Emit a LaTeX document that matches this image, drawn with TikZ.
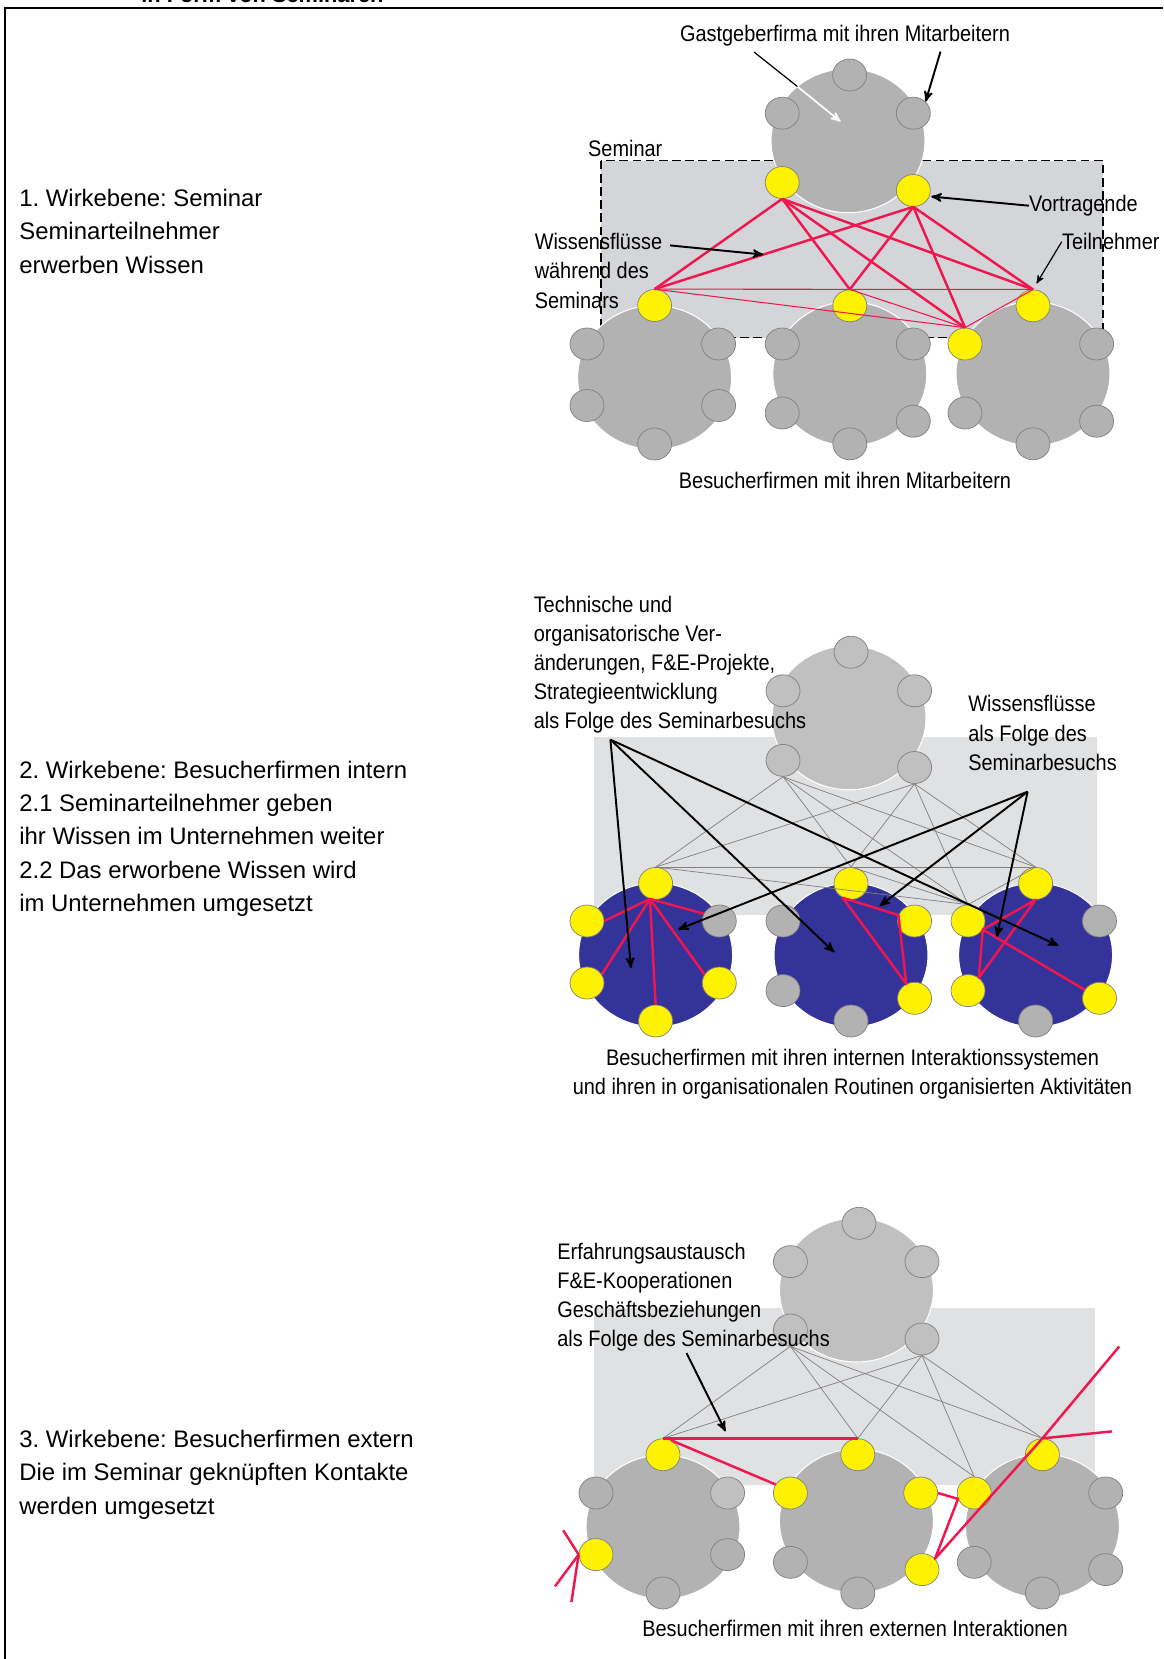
\documentclass[tikz,border=0pt]{standalone}
\usepackage{fontspec}
\setmainfont{Liberation Sans}
\newfontfamily\narrowfont{Liberation Sans}[FakeStretch=0.886]
\usepackage{tikz}
\usetikzlibrary{shapes.geometric}
\usetikzlibrary{arrows}
\usetikzlibrary{calc}
\frenchspacing

\definecolor{firmgray}{RGB}{178,178,178}
\definecolor{hostgray}{RGB}{192,192,192}
\definecolor{rimgray}{RGB}{128,128,128}
\definecolor{boxgray}{RGB}{212,213,216}
\definecolor{boxlight}{RGB}{224,225,227}
\definecolor{flowred}{RGB}{240,22,80}
\definecolor{navy}{RGB}{51,51,153}

\tikzset{
  firmbody/.style={ellipse,minimum width=3.08cm,minimum height=2.88cm,inner sep=0pt,draw=white,line width=0.6pt},
  person/.style={ellipse,minimum width=0.68cm,minimum height=0.64cm,inner sep=0pt,draw=rimgray,line width=0.4pt},
  flow/.style={flowred,line width=1.4pt,line join=round},
  thinflow/.style={flowred,line width=0.6pt},
  tie/.style={rimgray,line width=0.4pt},
  pointer/.style={->,black,line width=1.1pt},
  lbl/.style={font=\narrowfont\fontsize{12.8}{16.6}\selectfont,inner sep=0pt,align=left},
  stagetext/.style={font=\fontsize{13.6}{19}\selectfont,inner sep=0pt,align=left,anchor=base west}
}

% firm: name, centre, fill, list of small/dx/dy/colour
\newcommand{\drawfirm}[4]{%
  \node[firmbody,fill=#3] (#1) at #2 {};
  \foreach \where/\ox/\oy/\tone in {#4}
    \node[person,fill=\tone] (#1-\where) at ($(#1)+(\ox,\oy)$) {};
}

\begin{document}
\begin{tikzpicture}[x=0.02cm,y=-0.02cm,>=stealth']
\useasboundingbox (0,0) rectangle (1163,1659);

% frame
\draw[line width=1.3pt] (4,8) -- (1163,8);
\draw[line width=1.3pt] (5,8) -- (5,1659);
\node[anchor=base west,inner sep=0pt,font=\bfseries\fontsize{12.4}{15}\selectfont] (headline) at (141,3) {in Form von Seminaren};

% ---- 1. Wirkebene
% (base of a multi-line node = its last line)
\node[stagetext] (stage1) at (19,273.3) {1. Wirkebene: Seminar\\Seminarteilnehmer\\erwerben Wissen};
\draw[fill=boxgray,dash pattern=on 5pt off 2.5pt,line width=0.9pt] (601,160.7) rectangle (1103,337.7);

\drawfirm{H1}{(848,140.7)}{firmgray}{t/1.6/-65.7/firmgray,ul/-65.8/-27.5/firmgray,ur/65.3/-27.5/firmgray,ll/-65.8/41.8/yellow,lr/65.3/49.8/yellow}
\drawfirm{L1}{(654.6,377.5)}{firmgray}{t/0/-72/yellow,ul/-67.6/-33.5/firmgray,ur/64/-33.5/firmgray,ll/-67.6/28/firmgray,lr/64/28/firmgray,b/0/66.5/firmgray}
\drawfirm{M1}{(849.8,373.8)}{firmgray}{t/0/-68/yellow,ul/-67.6/-29.8/firmgray,ur/63.5/-29.8/firmgray,ll/-67.6/39.2/firmgray,lr/63.5/47.4/firmgray,b/0/70/firmgray}
\drawfirm{R1}{(1033,373.8)}{firmgray}{t/0/-68/yellow,ul/-68/-29.8/yellow,ur/63.6/-29.8/firmgray,ll/-68/39.2/firmgray,lr/63.6/47.4/firmgray,b/0/70/firmgray}

\foreach \s in {ll,lr}
  \foreach \t in {L1-t,M1-t,R1-t,R1-ul}
    \draw[flow] (H1-\s.south) -- (\t.north);
\foreach \a/\b in {L1-t/R1-t,L1-t/R1-ul,M1-t/R1-ul,R1-t/R1-ul}
  \draw[thinflow] (\a.north) -- (\b.north);

\node[lbl,anchor=base] (gast) at (845,41.7) {Gastgeberfirma mit ihren Mitarbeitern};
\coordinate (gastA) at (754,52);
\coordinate (gastB) at (797.5,86.6);
\coordinate (gastC) at (840.6,121.6);
\coordinate (gastD) at (940.5,51.6);
\draw[line width=0.7pt] (gastA) -- (gastB);
\draw[->,white,line width=1pt] (gastB) -- (gastC);
\draw[pointer] (gastD) -- (H1-ur.north east);

\node[lbl,anchor=base west] (seminar) at (587.8,156.5) {Seminar};
\node[lbl,anchor=base west] (vortr) at (1028.8,211.5) {Vortragende};
\draw[pointer,shorten >=1pt] (vortr.west) -- (H1-lr.-20);
\node[lbl,anchor=base west] (teiln) at (1061.7,249.8) {Teilnehmer};
\draw[->,line width=0.7pt,shorten >=4pt] (teiln.west) -- (R1-t.north);
\node[lbl,anchor=base west] (wiss1) at (534.4,308) {Wissensflüsse\\während des\\Seminars};
\coordinate (wissA) at (670,245.4);
\draw[pointer] (wissA) -- ($(H1-lr.south)!0.58!(L1-t.north)$);
\node[lbl,anchor=base] (visit1) at (845,488) {Besucherfirmen mit ihren Mitarbeitern};

% ---- 2. Wirkebene
\node[stagetext] (stage2) at (19,911.7) {2. Wirkebene: Besucherfirmen intern\\2.1 Seminarteilnehmer geben\\ihr Wissen im Unternehmen weiter\\2.2 Das erworbene Wissen wird\\im Unternehmen umgesetzt};
\fill[boxlight] (594,737.3) rectangle (1097,914.5);

\drawfirm{H2}{(849,717.8)}{hostgray}{t/2/-65.6/hostgray,ul/-66/-27/hostgray,ur/65.6/-27/hostgray,ll/-66/42.6/hostgray,lr/65.6/49.7/hostgray}
\drawfirm{L2}{(655.6,955)}{navy}{t/0/-71.6/yellow,ul/-68.6/-34/yellow,ur/63.7/-34/firmgray,ll/-68.6/28/yellow,lr/63.7/28/yellow,b/0/66/yellow}
\drawfirm{M2}{(851,955)}{navy}{t/0/-71.6/yellow,ul/-68/-34/firmgray,ur/63.6/-34/yellow,ll/-68/35.6/firmgray,lr/63.6/43.3/yellow,b/0/66/firmgray}
\drawfirm{R2}{(1035.6,955)}{navy}{t/0/-71.6/yellow,ul/-67.6/-34/yellow,ur/63.9/-34/firmgray,ll/-67.6/35.6/yellow,lr/63.9/43.3/yellow,b/0/66/firmgray}

\foreach \s in {ll,lr}
  \foreach \t in {L2-t,M2-t,R2-t,R2-ul}
    \draw[tie] (H2-\s.south) -- (\t.north);
\foreach \a/\b in {L2-t/R2-t,L2-t/R2-ul,M2-t/R2-ul,R2-t/R2-ul}
  \draw[tie] (\a.north) -- (\b.north);

\foreach \t in {ul.east,ll.30,b.north,lr.150,ur.155}
  \draw[flow] (L2-t.-110) -- (L2-\t);
\draw[flow] (M2-t.-120) -- (M2-ur.160) -- (M2-lr.120) -- cycle;
\draw[flow] (R2-t.south) -- (R2-ll.50) -- (R2-ul.-30) -- cycle;
\draw[flow] (R2-ul.-30) -- (R2-lr.150);

\node[lbl,anchor=base west] (techn) at (533.4,728.8) {Technische und\\organisatorische Ver-\\änderungen, F\&E-Projekte,\\Strategieentwicklung\\als Folge des Seminarbesuchs};
\coordinate (technA) at (610.4,739.6);
\draw[pointer] (technA) -- ($(L2)+(-24.6,13)$);
\draw[pointer] (technA) -- ($(M2)+(-16.6,-2.7)$);
\draw[pointer] (technA) -- ($(R2)+(22.8,-9.4)$);
\node[lbl,anchor=base west] (wiss2) at (968,770.3) {Wissensflüsse\\als Folge des\\Seminarbesuchs};
\coordinate (wissB) at (1027.6,791.7);
\draw[pointer] (wissB) -- ($(L2)+(22.6,-25.6)$);
\draw[pointer] (wissB) -- ($(M2)+(28.6,-49)$);
\draw[pointer] (wissB) -- ($(R2)+(-38.8,-18.2)$);
\node[lbl,anchor=base,align=center] (visit2) at (852.5,1094.8) {Besucherfirmen mit ihren internen Interaktionssystemen\\und ihren in organisationalen Routinen organisierten Aktivitäten};

% ---- 3. Wirkebene
\node[stagetext] (stage3) at (19,1514) {3. Wirkebene: Besucherfirmen extern\\Die im Seminar geknüpften Kontakte\\werden umgesetzt};
\fill[boxlight] (594,1308.2) rectangle (1095.4,1484.7);

\drawfirm{H3}{(856.4,1290)}{hostgray}{t/2.6/-66.7/hostgray,ul/-66/-28.4/hostgray,ur/65.6/-28.4/hostgray,ll/-66/40/hostgray,lr/65.6/49/hostgray}
\drawfirm{L3}{(663,1527)}{firmgray}{t/0/-72.3/yellow,ul/-67/-34/firmgray,ur/64.6/-34/hostgray,ll/-67/27.6/yellow,lr/64.6/27.6/firmgray,b/0/66/firmgray}
\drawfirm{M3}{(856.4,1521)}{firmgray}{t/1.4/-66.3/yellow,ul/-66/-28/yellow,ur/64.3/-28/yellow,ll/-66/41.3/firmgray,lr/65.6/48.6/yellow,b/1.4/72/firmgray}
\drawfirm{R3}{(1042.4,1526)}{firmgray}{t/0/-71.3/yellow,ul/-68.2/-33/yellow,ur/63.3/-33/firmgray,ll/-68.2/36.3/firmgray,lr/63.3/43.6/firmgray,b/0/67/firmgray}

\foreach \s in {ll,lr}
  \foreach \t in {L3-t,M3-t,R3-t,R3-ul}
    \draw[tie] (H3-\s.south) -- (\t.north);

\draw[flow] (L3-t.north) -- (M3-t.north);
\draw[flow] (L3-t.60) -- (M3-ul.150);
\coordinate (outA) at (563.2,1530.3);
\coordinate (outB) at (555,1586.3);
\coordinate (outC) at (571.4,1602);
\coordinate (outD) at (1119.2,1346.5);
\coordinate (outE) at (1111.8,1431.4);
\foreach \o in {outA,outB,outC}
  \draw[flow] (L3-ll.west) -- (\o);
\draw[flow] (M3-ur.east) -- (R3-ul.200) -- (M3-lr.40) -- (R3-t.north) -- (outD);
\draw[flow] (R3-t.north) -- (outE);

\node[lbl,anchor=base west] (erfahr) at (557,1346.5) {Erfahrungsaustausch\\F\&E-Kooperationen\\Geschäftsbeziehungen\\als Folge des Seminarbesuchs};
\coordinate (erfA) at (686.5,1353);
\coordinate (erfB) at (725.5,1431.4);
\draw[pointer] (erfA) -- (erfB);
\node[lbl,anchor=base] (visit3) at (855,1636.2) {Besucherfirmen mit ihren externen Interaktionen};
\end{tikzpicture}
\end{document}
